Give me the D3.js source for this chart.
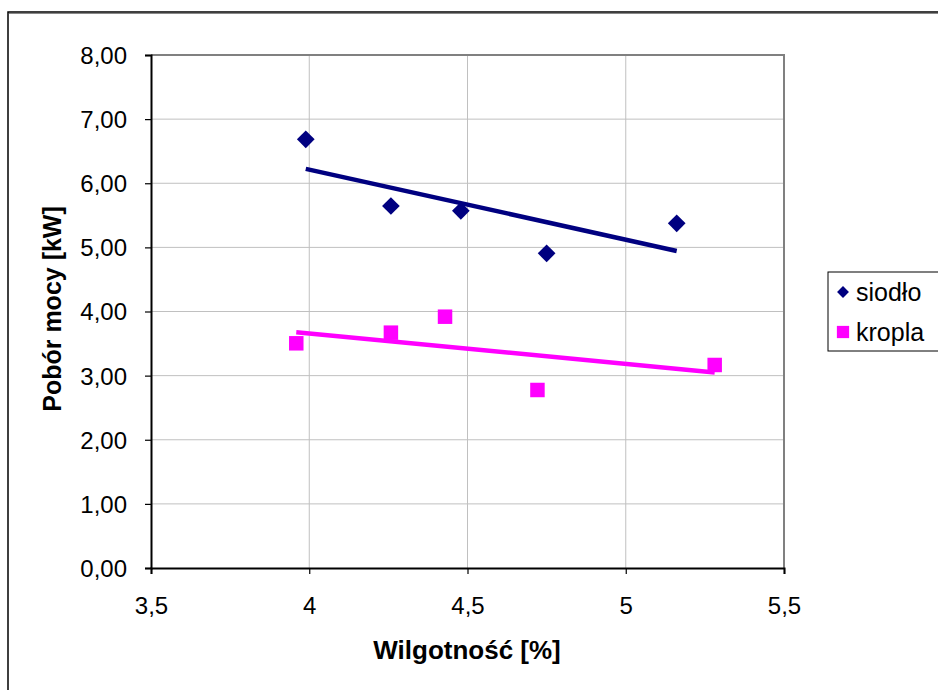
<!DOCTYPE html>
<html><head><meta charset="utf-8">
<script src="https://cdn.jsdelivr.net/npm/d3@7"></script>
<style>
body{margin:0;background:#fff;}
svg{display:block;font-family:"Liberation Sans",Arial,sans-serif;}
</style></head>
<body>
<svg id="c" width="938" height="690"></svg>
<script>
const seriesNames = ["siodło", "kropla"];
const seriesColors = ["#000080", "#FF00FF"];
const siodloX = [3.989, 4.258, 4.479, 4.750, 5.161];
const siodloY = [6.685, 5.645, 5.570, 4.907, 5.375];
const kroplaX = [3.959, 4.258, 4.429, 4.721, 5.281];
const kroplaY = [3.504, 3.670, 3.919, 2.776, 3.166];
const xTicks = [3.5, 4, 4.5, 5, 5.5];
const yTicks = [0, 1, 2, 3, 4, 5, 6, 7, 8];
const xTitle = "Wilgotność [%]";
const yTitle = "Pobór mocy [kW]";

const svg = d3.select("#c");
const L = 151, R = 784, T = 55, B = 568;
const x = d3.scaleLinear().domain([3.5, 5.5]).range([L, R]);
const y = d3.scaleLinear().domain([0, 8]).range([B, T]);

// outer frame
svg.append("rect").attr("x", 8).attr("y", 12).attr("width", 960).attr("height", 720)
  .attr("fill", "none").attr("stroke", "#000").attr("stroke-width", 1.5);
svg.append("line").attr("x1", 9).attr("x2", 938).attr("y1", 13.5).attr("y2", 13.5)
  .attr("stroke", "#888").attr("stroke-width", 1);

// gridlines
svg.append("g").selectAll("line").data(yTicks.slice(1, -1)).join("line")
  .attr("x1", L).attr("x2", R).attr("y1", d => y(d)).attr("y2", d => y(d))
  .attr("stroke", "#c0c0c0").attr("stroke-width", 1);
svg.append("g").selectAll("line").data(xTicks.slice(1, -1)).join("line")
  .attr("y1", T).attr("y2", B).attr("x1", d => x(d)).attr("x2", d => x(d))
  .attr("stroke", "#c0c0c0").attr("stroke-width", 1);
// plot area top/right border
svg.append("path").attr("d", `M${L},${T}H${R}V${B}`).attr("fill", "none")
  .attr("stroke", "#808080").attr("stroke-width", 2);

const fmt = d => d.toFixed(2).replace(".", ",");
const fmtX = d => String(d).replace(".", ",");

const yAxis = svg.append("g").attr("transform", `translate(${L},0)`)
  .call(d3.axisLeft(y).tickValues(yTicks).tickFormat(fmt).tickSize(6).tickPadding(18));
const xAxis = svg.append("g").attr("transform", `translate(0,${B})`)
  .call(d3.axisBottom(x).tickValues(xTicks).tickFormat(fmtX).tickSize(6).tickPadding(23));
[yAxis, xAxis].forEach(a => {
  a.select(".domain").attr("stroke", "#000").attr("stroke-width", 2);
  a.selectAll(".tick line").attr("stroke", "#000").attr("stroke-width", 1.2);
  a.selectAll(".tick text").attr("font-size", 24).attr("fill", "#000")
    .attr("font-family", "Liberation Sans, Arial, sans-serif");
});
yAxis.selectAll(".tick text").attr("dy", "0.35em");

// titles
svg.append("text").attr("x", 467).attr("y", 659).attr("text-anchor", "middle")
  .attr("font-size", 26).attr("font-weight", "bold").text(xTitle);
svg.append("text").attr("transform", "translate(61,309) rotate(-90)").attr("text-anchor", "middle")
  .attr("font-size", 25).attr("font-weight", "bold").text(yTitle);

// regression
function fit(xs, ys) {
  const mx = d3.mean(xs), my = d3.mean(ys);
  const s = d3.sum(xs, (v, i) => (v - mx) * (ys[i] - my)) / d3.sum(xs, v => (v - mx) ** 2);
  const x0 = d3.min(xs), x1 = d3.max(xs);
  return [[x0, my + s * (x0 - mx)], [x1, my + s * (x1 - mx)]];
}
const series = [[siodloX, siodloY], [kroplaX, kroplaY]];
series.forEach(([xs, ys], i) => {
  const f = fit(xs, ys);
  svg.append("line").attr("x1", x(f[0][0])).attr("y1", y(f[0][1]))
    .attr("x2", x(f[1][0])).attr("y2", y(f[1][1]))
    .attr("stroke", seriesColors[i]).attr("stroke-width", 4.5);
});
const diamond = d3.symbol().type(d3.symbolDiamond2).size(200);
const square = d3.symbol().type(d3.symbolSquare).size(210);
series.forEach(([xs, ys], i) => {
  svg.append("g").selectAll("path").data(xs).join("path")
    .attr("transform", (d, j) => `translate(${x(d)},${y(ys[j])})`)
    .attr("d", i === 0 ? diamond() : square())
    .attr("fill", seriesColors[i]);
});

// legend
const lg = svg.append("g");
lg.append("rect").attr("x", 828).attr("y", 272).attr("width", 120).attr("height", 79)
  .attr("fill", "#fff").attr("stroke", "#000").attr("stroke-width", 1);
const legSyms = [d3.symbol().type(d3.symbolDiamond2).size(90), d3.symbol().type(d3.symbolSquare).size(150)];
seriesNames.forEach((n, i) => {
  const cy = 292 + i * 40;
  lg.append("path").attr("transform", `translate(843,${cy})`).attr("d", legSyms[i]())
    .attr("fill", seriesColors[i]);
  lg.append("text").attr("x", 856).attr("y", cy).attr("dy", "0.35em")
    .attr("font-size", 25).text(n);
});
</script>
</body></html>
